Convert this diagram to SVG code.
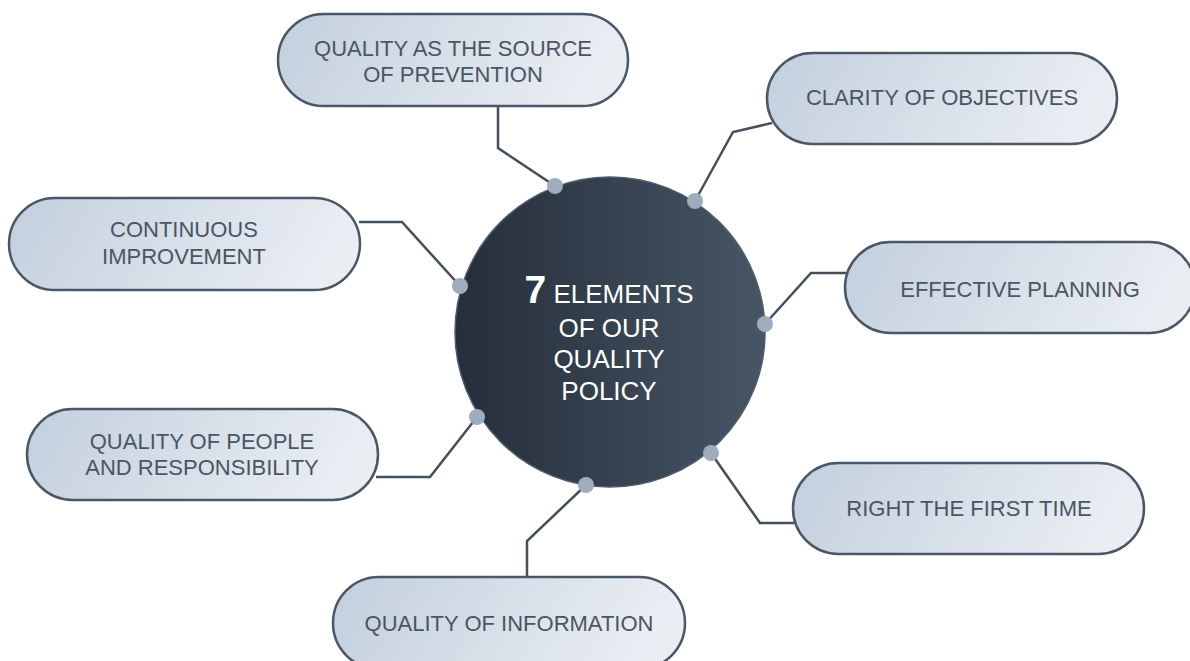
<svg xmlns="http://www.w3.org/2000/svg" width="1190" height="661" viewBox="0 0 1190 661">
<defs>
<linearGradient id="pillGrad" x1="0" y1="0" x2="1" y2="0.15">
<stop offset="0" stop-color="#c2cfdd"/>
<stop offset="1" stop-color="#eaeef3"/>
</linearGradient>
<linearGradient id="hubGrad" x1="0" y1="0" x2="1" y2="0">
<stop offset="0" stop-color="#252e3a"/>
<stop offset="1" stop-color="#475565"/>
</linearGradient>
</defs>
<style>
.pill{fill:url(#pillGrad);stroke:#4a5767;stroke-width:2.5}
.lbl{font-family:"Liberation Sans",Arial,sans-serif;font-size:22px;fill:#4a5563;text-anchor:middle}
.hubtxt{font-family:"Liberation Sans",Arial,sans-serif;font-size:26px;fill:#ffffff;text-anchor:middle}
.conn{fill:none;stroke:#444f5c;stroke-width:2.5;stroke-linejoin:miter}
.dot{fill:#9dadbe}
</style>
<rect width="1190" height="661" fill="#ffffff"/>

<g id="hub">
<circle cx="610" cy="332" r="155" fill="url(#hubGrad)" stroke="#4d5b6b" stroke-width="1.5"/>
<text class="hubtxt" x="609" y="303"><tspan font-weight="bold" font-size="39px">7</tspan> ELEMENTS</text>
<text class="hubtxt" x="609" y="337">OF OUR</text>
<text class="hubtxt" x="609" y="368">QUALITY</text>
<text class="hubtxt" x="609" y="400">POLICY</text>
</g>

<g id="connectors">
<polyline class="conn" points="498,106 498,148 555,186"/>
<polyline class="conn" points="695,201 733,132 772,123"/>
<polyline class="conn" points="359,222 402,222 460,286"/>
<polyline class="conn" points="765,324 811,273 847,273"/>
<polyline class="conn" points="477,417 430,477 376,477"/>
<polyline class="conn" points="711,453 760,523 794,523"/>
<polyline class="conn" points="586,485 527,541 527,578"/>
<circle class="dot" cx="555" cy="186" r="8"/>
<circle class="dot" cx="695" cy="201" r="8"/>
<circle class="dot" cx="460" cy="286" r="8"/>
<circle class="dot" cx="765" cy="324" r="8"/>
<circle class="dot" cx="477" cy="417" r="8"/>
<circle class="dot" cx="711" cy="453" r="8"/>
<circle class="dot" cx="586" cy="485" r="8"/>
</g>

<g id="node-source">
<rect class="pill" x="278" y="14" width="350" height="92" rx="46"/>
<text class="lbl" x="453" y="56">QUALITY AS THE SOURCE</text>
<text class="lbl" x="453" y="82">OF PREVENTION</text>
</g>

<g id="node-clarity">
<rect class="pill" x="767" y="53" width="350" height="91" rx="45.5"/>
<text class="lbl" x="942" y="105">CLARITY OF OBJECTIVES</text>
</g>

<g id="node-continuous">
<rect class="pill" x="9" y="198" width="351" height="92" rx="46"/>
<text class="lbl" x="184" y="237">CONTINUOUS</text>
<text class="lbl" x="184" y="264">IMPROVEMENT</text>
</g>

<g id="node-planning">
<rect class="pill" x="845" y="242" width="350" height="91" rx="45.5"/>
<text class="lbl" x="1020" y="297">EFFECTIVE PLANNING</text>
</g>

<g id="node-people">
<rect class="pill" x="27" y="409" width="351" height="91" rx="45.5"/>
<text class="lbl" x="202" y="449">QUALITY OF PEOPLE</text>
<text class="lbl" x="202" y="475">AND RESPONSIBILITY</text>
</g>

<g id="node-right">
<rect class="pill" x="793" y="463" width="351" height="91" rx="45.5"/>
<text class="lbl" x="969" y="516">RIGHT THE FIRST TIME</text>
</g>

<g id="node-information">
<rect class="pill" x="333" y="577" width="352" height="92" rx="46"/>
<text class="lbl" x="509" y="631">QUALITY OF INFORMATION</text>
</g>
</svg>
